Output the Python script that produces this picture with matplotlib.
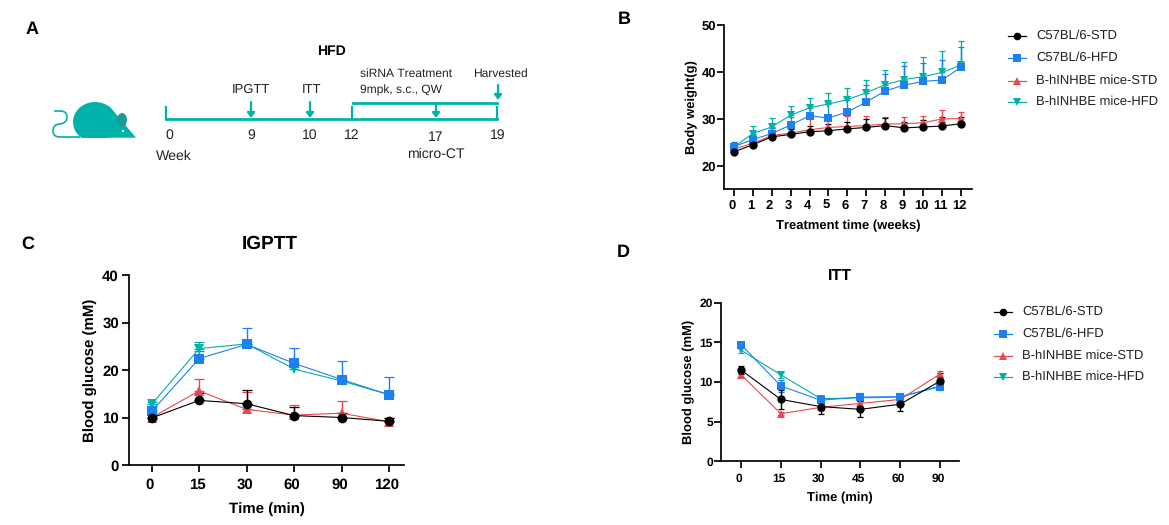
import matplotlib
matplotlib.use("Agg")
import matplotlib.pyplot as plt
from matplotlib.patches import Ellipse, Polygon, Circle, Rectangle, PathPatch
from matplotlib.path import Path
from matplotlib.transforms import ScaledTranslation

plt.rcParams['font.family'] = ['Liberation Sans', 'DejaVu Sans']
plt.rcParams['text.hinting'] = 'no_hinting'
plt.rcParams['text.hinting_factor'] = 1

W, H = 1169, 525
GROUPS = ["C57BL/6-STD", "C57BL/6-HFD", "B-hINHBE mice-STD", "B-hINHBE mice-HFD"]
COLORS = {"bk": "#000000", "bl": "#1E80F0", "rd": "#E8484F", "te": "#00B2A5"}

weeks = list(range(13))
b_black = [23, 24.5, 26.2, 26.7, 27.3, 27.5, 27.9, 28.2, 28.6, 28.1, 28.3, 28.5, 29]
b_blue = [24.1, 25.6, 26.9, 28.7, 30.7, 30.2, 31.5, 33.6, 36, 37.2, 38, 38.3, 41]
b_red = [23.6, 24.8, 26.5, 27.0, 27.7, 28.2, 28.4, 28.6, 28.9, 29, 29.2, 30, 30.1]
b_teal = [24, 26.9, 28.3, 30.8, 32.4, 33.2, 34.1, 35.6, 37.3, 38.4, 39, 39.9, 41.5]
b_black_e = [1.8, 1.0, 0.8, 1.1, 1.2, 1.5, 1.5, 1.7, 1.7, 1.3, 1.4, 2.0, 1.5]
b_blue_e = [0.9, 0.9, 1.1, 1.8, 2.3, 3.4, 3.3, 3.7, 3.5, 4.1, 3.9, 4.2, 4.4]
b_red_e = [0.9, 0.7, 1.5, 1.0, 2.3, 1.8, 2.2, 2.0, 1.5, 1.5, 1.5, 2.0, 1.4]
b_teal_e = [0.9, 1.6, 2.0, 1.9, 2.1, 2.4, 2.5, 2.8, 3.1, 3.8, 4.2, 4.5, 5.0]

igptt_ticks = ["0", "15", "30", "60", "90", "120"]
c_black = [9.9, 13.6, 12.9, 10.4, 10.0, 9.2]
c_blue = [11.3, 22.4, 25.4, 21.4, 18, 14.8]
c_red = [10, 15.6, 11.7, 10.5, 10.9, 9.1]
c_teal = [12.8, 24.5, 25.5, 20.2, 17.7, 14.8]
c_black_e = [0.6, 1.6, 2.9, 1.9, 1.0, 0.8]
c_blue_e = [1.2, 1.6, 3.4, 3.2, 3.9, 3.8]
c_red_e = [0.5, 2.6, 3.7, 2.1, 2.5, 0.7]
c_teal_e = [0.5, 1.3, 0.5, 0.5, 0.8, 0.4]

itt_ticks = ["0", "15", "30", "45", "60", "90"]
d_black = [11.5, 7.8, 6.9, 6.55, 7.2, 10.1]
d_blue = [14.7, 9.5, 7.7, 8.1, 8.15, 9.4]
d_red = [10.9, 6, 6.8, 7.3, 7.8, 11]
d_teal = [14, 10.9, 7.9, 8.0, 8.1, 9.5]
d_black_e = [0.5, 1.2, 0.9, 1.0, 0.85, 1.0]
d_blue_e = [0.4, 0.8, 0.5, 0.5, 0.5, 0.4]
d_red_e = [0.3, 0.2, 0.5, 0.5, 0.3, 0.4]
d_teal_e = [0.4, 0.4, 0.3, 0.4, 0.3, 0.3]

timeline_weeks = ["0", "9", "10", "12", "17", "19"]

fig = plt.figure(figsize=(W / 100, H / 100), dpi=100, facecolor="white")


def make_axes(l, t, r, b):
    return fig.add_axes([l / W, 1 - b / H, (r - l) / W, (b - t) / H])


def series(ax, x, y, e, color, marker, ms, cap, both=False):
    lower = e if both else [0] * len(e)
    cont = ax.errorbar(x, y, yerr=[lower, e], color=color, marker=marker, ms=ms, lw=0.8,
                       elinewidth=1.0, capsize=cap, capthick=0.9, clip_on=False)
    cont[0].set_markeredgewidth(0)


def style(ax, xt, xl, yt, xlabel, ylabel, xlim, ylim, fs_tick, fs_label, xpad, ypad, xlp, ylp):
    ax.set_xlim(*xlim)
    ax.set_ylim(*ylim)
    ax.set_xticks(xt)
    ax.set_xticklabels(xl)
    ax.set_yticks(yt)
    for s in ("top", "right"):
        ax.spines[s].set_visible(False)
    for s in ("left", "bottom"):
        ax.spines[s].set_linewidth(1.25)
    ax.tick_params(length=4.8, width=1.25, labelsize=fs_tick)
    ax.tick_params(axis="x", pad=xpad)
    ax.tick_params(axis="y", pad=ypad)
    off = ScaledTranslation(-2 / 100, 0, fig.dpi_scale_trans)
    for t in ax.get_xticklabels():
        t.set_transform(t.get_transform() + off)
        t.set_fontweight("bold")
    for t in ax.get_yticklabels():
        t.set_fontweight("bold")
    ax.set_xlabel(xlabel, fontsize=fs_label, fontweight="bold", labelpad=xlp)
    ax.set_ylabel(ylabel, fontsize=fs_label, fontweight="bold", labelpad=ylp)


# Panel B
axb = make_axes(724.3, 25, 971.7, 189)
series(axb, weeks, b_teal, b_teal_e, COLORS["te"], "v", 6, 2.5)
series(axb, weeks, b_red, b_red_e, COLORS["rd"], "^", 6, 2.5)
series(axb, weeks, b_blue, b_blue_e, COLORS["bl"], "s", 5.8, 2.5)
series(axb, weeks, b_black, b_black_e, COLORS["bk"], "o", 6, 2.5)
style(axb, weeks, [str(w) for w in weeks], [20, 30, 40, 50], "Treatment time (weeks)", "Body weight(g)",
      (-0.5, 12.56), (15.1, 50), 9, 9.5, 3, 1.2, 6, 2.5)

# Panel C
axc = make_axes(129, 275, 404, 465)
xc = list(range(6))
series(axc, xc, c_teal, c_teal_e, COLORS["te"], "v", 7, 3.3)
series(axc, xc, c_red, c_red_e, COLORS["rd"], "^", 7, 3.3)
series(axc, xc, c_blue, c_blue_e, COLORS["bl"], "s", 6.7, 3.3)
series(axc, xc, c_black, c_black_e, COLORS["bk"], "o", 7, 3.3)
style(axc, xc, igptt_ticks, [0, 10, 20, 30, 40], "Time (min)", "Blood glucose (mM)",
      (-0.478, 5.316), (0, 40), 10.5, 11, 4.5, 2.5, 7.5, 3)
fig.text(270 / W, 1 - 243.5 / H, "IGPTT", fontsize=14, fontweight="bold", ha="center", va="center")

# Panel D
axd = make_axes(721.3, 302.7, 959, 461.3)
xd = list(range(6))
series(axd, xd, d_teal, d_teal_e, COLORS["te"], "v", 6, 2.5, both=True)
series(axd, xd, d_red, d_red_e, COLORS["rd"], "^", 6, 2.5, both=True)
series(axd, xd, d_blue, d_blue_e, COLORS["bl"], "s", 5.8, 2.5, both=True)
series(axd, xd, d_black, d_black_e, COLORS["bk"], "o", 6, 2.5, both=True)
style(axd, xd, itt_ticks, [0, 5, 10, 15, 20], "Time (min)", "Blood glucose (mM)",
      (-0.5, 5.48), (0, 20), 8.8, 9, 3.5, 1.2, 6, 3)
fig.text(840 / W, 1 - 276 / H, "ITT", fontsize=11.5, fontweight="bold", ha="center", va="center")

# Overlay in pixel coordinates: panel A and legends
ov = fig.add_axes([0, 0, 1, 1], zorder=5)
ov.set_xlim(0, W)
ov.set_ylim(H, 0)
ov.axis("off")
ov.patch.set_alpha(0)
TEAL = "#00B2A9"


def legend(mx, tx, ys, half, fs):
    cols = [COLORS["bk"], COLORS["bl"], COLORS["rd"], COLORS["te"]]
    marks = ["o", "s", "^", "v"]
    for y, c, m, g in zip(ys, cols, marks, GROUPS):
        ov.plot([mx - half, mx + half], [y, y], color=c, lw=0.9)
        ov.plot([mx], [y], color=c, marker=m, ms=5.5, mew=0)
        ov.text(tx, y, g, fontsize=fs, va="center", ha="left", color="#222222")


legend(1017, 1036, [36, 58, 81, 102], 9, 9.6)
legend(1003, 1022, [312, 334, 356, 377], 9, 9.4)

for lab, x, y in [("A", 32, 29), ("B", 624, 19), ("C", 28, 244), ("D", 623, 252)]:
    ov.text(x, y, lab, fontsize=13, fontweight="bold", ha="center", va="center")

# Timeline
ov.plot([166, 497], [118.5, 118.5], color=TEAL, lw=2)
ov.plot([353, 497], [102.5, 102.5], color=TEAL, lw=2)
for x in (166, 352, 497):
    ov.plot([x, x], [107, 119], color=TEAL, lw=1.6)
for x, y0, y1 in [(251, 102, 118), (310, 102, 118), (436, 103, 118), (498, 85, 100)]:
    ov.annotate("", xy=(x, y1), xytext=(x, y0),
                arrowprops=dict(arrowstyle="-|>,head_width=0.22,head_length=0.3", color=TEAL, lw=1.6,
                                shrinkA=0, shrinkB=0))
tw_x = [169, 251, 310, 352, 436, 498]
tw_y = [135, 135, 135, 135, 137, 135]
for s, x, y in zip(timeline_weeks, tw_x, tw_y):
    ov.text(x, y, s, fontsize=10, ha="center", va="center", color="#222222")
ov.text(174, 156, "Week", fontsize=10, ha="center", va="center", color="#222222")
ov.text(436, 154, "micro-CT", fontsize=10, ha="center", va="center", color="#222222")
ov.text(331, 51, "HFD", fontsize=10, fontweight="bold", ha="center", va="center")
ov.text(360, 74, "siRNA Treatment", fontsize=8.8, ha="left", va="center", color="#222222")
ov.text(360, 90, "9mpk, s.c., QW", fontsize=8.8, ha="left", va="center", color="#222222")
ov.text(500, 74, "Harvested", fontsize=8.8, ha="center", va="center", color="#222222")
ov.text(251, 90, "IPGTT", fontsize=9, ha="center", va="center", color="#222222")
ov.text(312, 90, "ITT", fontsize=9, ha="center", va="center", color="#222222")

# Mouse icon
body = Ellipse((95, 122), 44, 40, color=TEAL, lw=0)
ov.add_patch(body)
body.set_clip_path(Rectangle((60, 95), 70, 42.7, transform=ov.transData))
ov.add_patch(Polygon([(95, 102), (110, 107), (136, 137.7), (82, 137.7)], closed=True, color=TEAL, lw=0))
ov.add_patch(Ellipse((122, 120), 10, 14, color="#1F9A92", lw=0))
ov.add_patch(Circle((123, 131), 1.1, color="white", lw=0))
tail_v = [(80, 137), (60, 137), (53, 137), (53, 131), (53, 124), (60, 124),
          (67, 123), (67, 117), (67, 111), (60, 111), (54, 111)]
tail_c = [Path.MOVETO, Path.LINETO, Path.CURVE3, Path.CURVE3, Path.CURVE3, Path.CURVE3,
          Path.CURVE3, Path.CURVE3, Path.CURVE3, Path.CURVE3, Path.LINETO]
ov.add_patch(PathPatch(Path(tail_v, tail_c), fc="none", ec=TEAL, lw=1.2))

fig.savefig("out.png", dpi=100)
